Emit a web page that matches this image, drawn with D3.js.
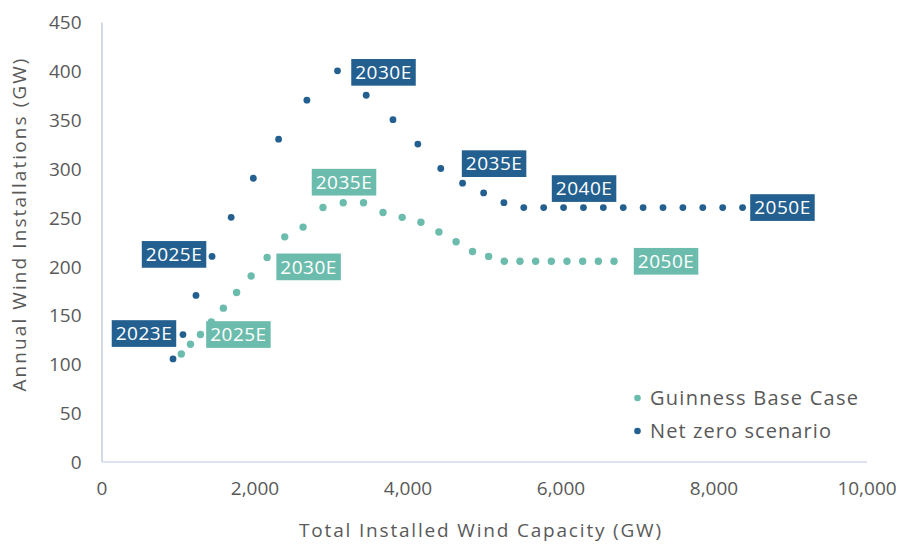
<!DOCTYPE html>
<html>
<head>
<meta charset="utf-8">
<script src="https://cdn.jsdelivr.net/npm/d3@7"></script>
<style>
  html, body { margin: 0; padding: 0; background: #ffffff; }
  svg text { font-family: "Open Sans", "DejaVu Sans", sans-serif; }
</style>
</head>
<body>
<svg id="chart" width="904" height="544"></svg>
<script>
// Guinness Base Case: total installed capacity (GW) vs annual installations (GW)
const baseYears = [2023, 2024, 2025, 2026, 2027, 2028, 2029, 2030, 2031, 2032, 2033, 2034, 2035, 2036,
                   2037, 2038, 2039, 2040, 2041, 2042, 2043, 2044, 2045, 2046, 2047, 2048, 2049, 2050];
const baseCapacity = [1043, 1163, 1293, 1436, 1593, 1766, 1956, 2165, 2395, 2635, 2895, 3160, 3425, 3680,
                      3930, 4175, 4410, 4635, 4850, 5060, 5265, 5470, 5675, 5880, 6085, 6290, 6495, 6700];
const baseAnnual = [110, 120, 130, 143, 157, 173, 190, 209, 230, 240, 260, 265, 265, 255,
                    250, 245, 235, 225, 215, 210, 205, 205, 205, 205, 205, 205, 205, 205];

// Net zero scenario
const netZeroYears = [2022, 2023, 2024, 2025, 2026, 2027, 2028, 2029, 2030, 2031, 2032, 2033, 2034, 2035, 2036,
                      2037, 2038, 2039, 2040, 2041, 2042, 2043, 2044, 2045, 2046, 2047, 2048, 2049, 2050];
const netZeroCapacity = [935, 1065, 1235, 1445, 1695, 1985, 2315, 2685, 3085, 3460, 3810, 4135, 4435, 4720, 4995,
                         5260, 5520, 5780, 6040, 6300, 6560, 6820, 7080, 7340, 7600, 7860, 8120, 8380, 8640];
const netZeroAnnual = [105, 130, 170, 210, 250, 290, 330, 370, 400, 375, 350, 325, 300, 285, 275,
                       265, 260, 260, 260, 260, 260, 260, 260, 260, 260, 260, 260, 260, 260];

// Years that carry a callout label
const baseLabelYears = [2025, 2030, 2035, 2050];
const netZeroLabelYears = [2023, 2025, 2030, 2035, 2040, 2050];

const xTicks = [0, 2000, 4000, 6000, 8000, 10000];
const yTicks = [0, 50, 100, 150, 200, 250, 300, 350, 400, 450];

const seriesNames = ["Guinness Base Case", "Net zero scenario"];
const COLORS = { base: "#6cbcad", netZero: "#235f8f" };
const TEXT = "#595959";

const svg = d3.select("#chart");

const x = d3.scaleLinear().domain([0, 10000]).range([101.5, 866.5]);
const y = d3.scaleLinear().domain([0, 450]).range([461.5, 22]);

// Spread a text's letters so that it fills a given width
function fitWidth(sel, width) {
  const node = sel.node();
  const n = sel.text().length;
  const w = node.getComputedTextLength();
  if (n > 1) sel.style("letter-spacing", ((width - w) / (n - 1)) + "px");
  return sel;
}

// Axes
const yAxis = svg.append("g")
  .attr("transform", `translate(${x(0)},0)`)
  .call(d3.axisLeft(y).tickValues(yTicks).tickSize(0).tickSizeOuter(0).tickPadding(20));
yAxis.select(".domain").attr("stroke", "#bec5db").attr("stroke-width", 1.3);
yAxis.selectAll("text").attr("fill", TEXT).style("font-size", "19px").attr("dy", "0.36em");

const xAxis = svg.append("g")
  .attr("transform", `translate(0,${y(0)})`)
  .call(d3.axisBottom(x).tickValues(xTicks).tickSize(0).tickSizeOuter(0).tickPadding(20)
    .tickFormat(d3.format(",")));
xAxis.select(".domain").attr("stroke", "#d5daea").attr("stroke-width", 1.3);
xAxis.selectAll("text").attr("fill", TEXT).style("font-size", "19px").attr("dy", "0.72em");

// Axis titles
const xTitle = svg.append("text")
  .attr("x", 481).attr("y", 537)
  .attr("text-anchor", "middle")
  .attr("fill", TEXT)
  .style("font-size", "19px")
  .text("Total Installed Wind Capacity (GW)");
fitWidth(xTitle, 362);

const yTitle = svg.append("text")
  .attr("transform", "translate(26,224) rotate(-90)")
  .attr("text-anchor", "middle")
  .attr("fill", TEXT)
  .style("font-size", "19px")
  .text("Annual Wind Installations (GW)");
fitWidth(yTitle, 333);

// Series points
const baseData = baseYears.map((yr, i) => ({ year: yr, cap: baseCapacity[i], ann: baseAnnual[i] }));
const netZeroData = netZeroYears.map((yr, i) => ({ year: yr, cap: netZeroCapacity[i], ann: netZeroAnnual[i] }));

svg.append("g").selectAll("circle")
  .data(baseData).join("circle")
  .attr("cx", d => x(d.cap)).attr("cy", d => y(d.ann))
  .attr("r", 3.7).attr("fill", COLORS.base);

svg.append("g").selectAll("circle")
  .data(netZeroData).join("circle")
  .attr("cx", d => x(d.cap)).attr("cy", d => y(d.ann))
  .attr("r", 3.4).attr("fill", COLORS.netZero);

// Callout placement: offset of the box centre from its point, in pixels
const baseOffsets = {
  2025: [38, 0], 2030: [41.5, 9.5], 2035: [-19.5, -20.5], 2050: [52, 0]
};
const netZeroOffsets = {
  2023: [-39, -1], 2025: [-38, -2], 2030: [46, 1.5], 2035: [31.5, -19.5], 2040: [20.5, -19], 2050: [20, 0]
};

const BOX_W = 64.5, BOX_H = 26.7;

function drawCallouts(data, years, offsets, color) {
  const g = svg.append("g");
  data.filter(d => years.includes(d.year)).forEach(d => {
    const [dx, dy] = offsets[d.year];
    const cx = x(d.cap) + dx, cy = y(d.ann) + dy;
    g.append("rect")
      .attr("x", cx - BOX_W / 2).attr("y", cy - BOX_H / 2)
      .attr("width", BOX_W).attr("height", BOX_H)
      .attr("fill", color);
    const t = g.append("text")
      .attr("x", cx).attr("y", cy)
      .attr("dy", "0.36em")
      .attr("text-anchor", "middle")
      .attr("fill", "#ffffff")
      .style("font-size", "19px")
      .text(d.year + "E");
    fitWidth(t, 56);
  });
}

drawCallouts(baseData, baseLabelYears, baseOffsets, COLORS.base);
drawCallouts(netZeroData, netZeroLabelYears, netZeroOffsets, COLORS.netZero);

// Legend
const legendWidths = [208, 181];
const legend = svg.append("g").attr("transform", "translate(637.5,398)");
[COLORS.base, COLORS.netZero].forEach((c, i) => {
  const row = legend.append("g").attr("transform", `translate(0,${i * 33})`);
  row.append("circle").attr("r", 3.3).attr("fill", c);
  const t = row.append("text")
    .attr("x", 12.5).attr("dy", "0.36em")
    .attr("fill", TEXT)
    .style("font-size", "20px")
    .text(seriesNames[i]);
  fitWidth(t, legendWidths[i]);
});
</script>
</body>
</html>
